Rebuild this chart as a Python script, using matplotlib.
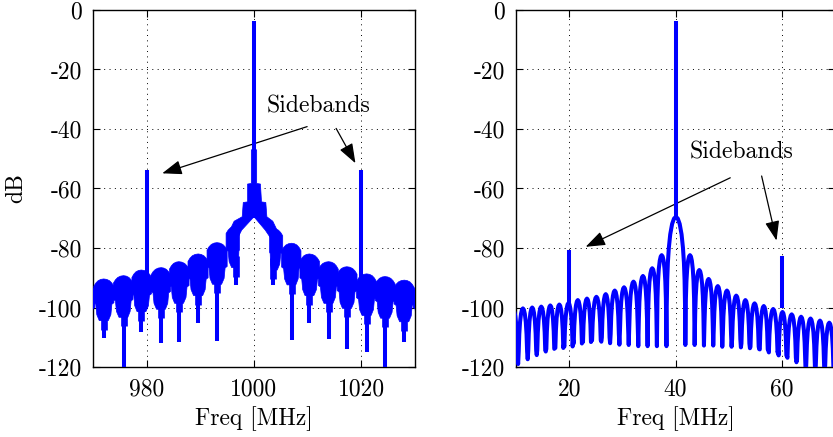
import numpy as np
import matplotlib
matplotlib.use("Agg")
import matplotlib.pyplot as plt

plt.rcParams['font.family'] = 'serif'
plt.rcParams['font.serif'] = ['cmr10', 'DejaVu Serif']
plt.rcParams['axes.unicode_minus'] = False

BLUE = '#0000ff'

# ---------------- shared axis data ----------------
yticks = [-120, -100, -80, -60, -40, -20, 0]
ytick_labels = ['-120', '-100', '-80', '-60', '-40', '-20', '0']

# ---------------- left panel (RF around 1000 MHz) ----------------
xticks_L = [980, 1000, 1020]
xtick_labels_L = ['980', '1000', '1020']
carrier_L_f = 1000.0
carrier_L_db = -3.8
sideband_L_f = [980.0, 1020.0]
sideband_L_db = [-53.8, -53.8]
sideband_L_base = [-94.0, -94.0]
lobe_L_f = [968.5, 972.0, 975.7, 979.0, 982.7, 986.0, 989.6, 993.1, 996.7,
            1003.5, 1007.0, 1010.3, 1013.9, 1017.3, 1021.0, 1024.4, 1028.0, 1031.5]
lobe_L_top = [-92.0, -90.4, -89.3, -87.4, -86.6, -84.6, -82.0, -78.2, -72.6,
              -73.4, -78.4, -82.0, -84.6, -86.3, -88.7, -89.6, -90.8, -92.0]
lobe_L_tip = [-112.0, -110.4, -125.0, -108.1, -112.0, -111.5, -105.1, -111.2, -92.4,
              -92.4, -110.9, -105.1, -110.7, -114.1, -114.8, -125.0, -111.5, -112.0]
# stepped skirt around the carrier: outer outline (left→right) then inner outline
skirt_outer_f = [995.3, 995.5, 996.3, 997.8, 998.0, 998.8, 998.8, 999.5, 999.5,
                 1000.5, 1000.5, 1001.2, 1001.4, 1002.2, 1002.4, 1003.5, 1004.3, 1004.5]
skirt_outer_db = [-76.0, -74.0, -71.0, -69.5, -64.7, -64.5, -58.5, -58.3, -47.0,
                  -47.0, -58.3, -58.5, -64.5, -64.7, -69.5, -71.0, -74.0, -76.0]
skirt_inner_f = [1003.6, 1002.1, 1000.0, 997.7, 996.6]
skirt_inner_db = [-78.0, -74.0, -69.5, -74.0, -78.0]

# ---------------- right panel (IF around 40 MHz) ----------------
xticks_R = [20, 40, 60]
xtick_labels_R = ['20', '40', '60']
carrier_R_f = 40.0
carrier_R_db = -3.8
sideband_R_f = [20.0, 60.0]
sideband_R_db = [-80.7, -82.7]
null_R_f = [8.6, 10.4, 12.2, 13.9, 15.6, 17.3, 19.0, 20.75, 22.5, 24.2, 26.05, 27.7,
            29.45, 31.2, 33.0, 34.75, 36.5, 38.3,
            41.85, 43.6, 45.35, 47.1, 48.8, 50.55, 52.3, 54.0, 55.75, 57.45, 59.3,
            60.95, 62.75, 64.5, 66.3, 68.05, 69.8, 71.5]
null_R_db = [-118, -119, -117.4, -116, -114.8, -113.7, -112.6, -111, -111, -111, -111.5, -112,
             -112.5, -112.6, -113, -113, -113, -113,
             -112.6, -112.6, -112.8, -112.8, -113.2, -113.2, -113.4, -113.7, -114, -114.1, -114.5,
             -116.3, -118.4, -123, -124, -125, -126, -126]
peak_R_db = [-101, -100.3, -100.0, -99.7, -99.3, -99.0, -98.5, -97.5, -97.0, -96.4, -95.5,
             -94.3, -93.2, -91.3, -89.4, -86.8, -82.4, -69.5, -82.4, -87.4, -90.4, -92.8,
             -94.3, -96.0, -97.5, -98.6, -99.5, -100.5, -101.5, -102.3, -103.1, -103.7,
             -104.4, -105.1, -105.6]

# lobe shape templates (style): fraction across lobe and drop from peak in dB
side_t = [0.06, 0.12, 0.2, 0.3, 0.4, 0.5, 0.6, 0.7, 0.8, 0.88, 0.94]
side_d = [-14.6, -8.7, -4.6, -1.84, -0.44, 0.0, -0.44, -1.84, -4.6, -8.7, -14.6]
main_t = [0.015, 0.04, 0.075, 0.125, 0.2, 0.3, 0.4, 0.5, 0.6, 0.7, 0.8, 0.875, 0.925, 0.96, 0.985]
main_d = [-30.2, -21.3, -15.4, -10.5, -5.9, -2.4, -0.6, 0.0, -0.6, -2.4, -5.9, -10.5, -15.4, -21.3, -30.2]

fig = plt.figure(figsize=(8.33, 4.37), dpi=100)
axL = fig.add_axes([93 / 833, 70 / 437, 322 / 833, 357 / 437])
axR = fig.add_axes([516 / 833, 70 / 437, 319 / 833, 357 / 437])

# ---------- left panel drawing ----------
cap_u = [-1, -0.8, -0.57, -0.29, 0, 0.29, 0.57, 0.8, 1]
cap_d = [-2.5, -1.4, -0.6, -0.15, 0, -0.15, -0.6, -1.4, -2.5]
n_L = len(lobe_L_f)
for i, (c, T, tip) in enumerate(zip(lobe_L_f, lobe_L_top, lobe_L_tip)):
    prev_gap = (c - lobe_L_f[i - 1]) if i > 0 else 3.5
    next_gap = (lobe_L_f[i + 1] - c) if i < n_L - 1 else 3.5
    hl = min(prev_gap, 3.6) / 2 + 0.1
    hr = min(next_gap, 3.6) / 2 + 0.1
    if abs(c - carrier_L_f) < 5:
        if c < carrier_L_f:
            hr = 0.6
        else:
            hl = 0.6
    xs = [c + (hl if u < 0 else hr) * u for u in cap_u]
    ys = [T + d for d in cap_d]
    xs += [c + hr, c + 0.8 * hr, c + 0.7 * hr, c + 0.45 * hr,
           c - 0.45 * hl, c - 0.7 * hl, c - 0.8 * hl, c - hl]
    ys += [T - 8.0, T - 8.5, T - 12.0, T - 14.0, T - 14.0, T - 12.0, T - 8.5, T - 8.0]
    axL.fill(xs, ys, color=BLUE, lw=0.5, zorder=3)
    mid = max(tip, T - 17.0)
    axL.plot([c, c], [T - 10, mid], color=BLUE, lw=4.8, solid_capstyle='butt', zorder=3)
    axL.plot([c, c], [mid, tip], color=BLUE, lw=2.9, solid_capstyle='butt', zorder=3)

axL.fill(skirt_outer_f + skirt_inner_f, skirt_outer_db + skirt_inner_db,
         color=BLUE, lw=0.5, zorder=3)
axL.plot([carrier_L_f, carrier_L_f], [-70, carrier_L_db], color=BLUE, lw=2.9,
         solid_capstyle='butt', zorder=4)
for f, top, base in zip(sideband_L_f, sideband_L_db, sideband_L_base):
    axL.plot([f, f], [base, top], color=BLUE, lw=2.9, solid_capstyle='butt', zorder=4)

# ---------- right panel drawing ----------
xs_R, ys_R = [], []
for i in range(len(peak_R_db)):
    f0, f1 = null_R_f[i], null_R_f[i + 1]
    P = peak_R_db[i]
    tt, dd = (main_t, main_d) if (f0 < carrier_R_f < f1) else (side_t, side_d)
    xs_R.append(f0)
    ys_R.append(null_R_db[i])
    for t, d in zip(tt, dd):
        xs_R.append(f0 + t * (f1 - f0))
        ys_R.append(P + d)
xs_R.append(null_R_f[-1])
ys_R.append(null_R_db[-1])
axR.plot(xs_R, ys_R, color=BLUE, lw=2.9, solid_joinstyle='round', zorder=3)
axR.plot([carrier_R_f, carrier_R_f], [-70, carrier_R_db], color=BLUE, lw=2.9,
         solid_capstyle='butt', zorder=4)
for f, top in zip(sideband_R_f, sideband_R_db):
    axR.plot([f, f], [-100, top], color=BLUE, lw=2.9, solid_capstyle='butt', zorder=4)

# ---------- axes styling ----------
for ax, xl, xt, xtl in [(axL, (970, 1030), xticks_L, xtick_labels_L),
                        (axR, (10, 70), xticks_R, xtick_labels_R)]:
    ax.set_xlim(*xl)
    ax.set_ylim(-120, 0)
    ax.set_xticks(xt)
    ax.set_xticklabels(xtl)
    ax.set_yticks(yticks)
    ax.set_yticklabels(ytick_labels)
    ax.tick_params(direction='in', top=True, right=True, length=5, width=0.8,
                   labelsize=17, pad=8)
    ax.grid(True, linestyle=(0, (1, 4.5)), color='k', lw=0.7)
    for s in ax.spines.values():
        s.set_linewidth(1.0)
    ax.set_xlabel('Freq [MHz]', fontsize=17, labelpad=4)
axL.set_ylabel('dB', fontsize=17, labelpad=8)

arrow_kw = dict(arrowstyle='-|>,head_length=0.6,head_width=0.22', color='k', lw=0.9,
                shrinkA=0, shrinkB=0, mutation_scale=20)
axL.text(1012.0, -32.3, 'Sidebands', fontsize=17, ha='center', va='center')
axL.annotate('', xy=(982.9, -54.9), xytext=(1009.9, -39.2), arrowprops=arrow_kw)
axL.annotate('', xy=(1018.9, -51.5), xytext=(1015.3, -39.8), arrowprops=arrow_kw)
axR.text(52.4, -47.9, 'Sidebands', fontsize=17, ha='center', va='center')
axR.annotate('', xy=(23.1, -79.6), xytext=(50.3, -56.4), arrowprops=arrow_kw)
axR.annotate('', xy=(59.0, -77.5), xytext=(56.2, -55.8), arrowprops=arrow_kw)

fig.savefig('out.png', dpi=100)
